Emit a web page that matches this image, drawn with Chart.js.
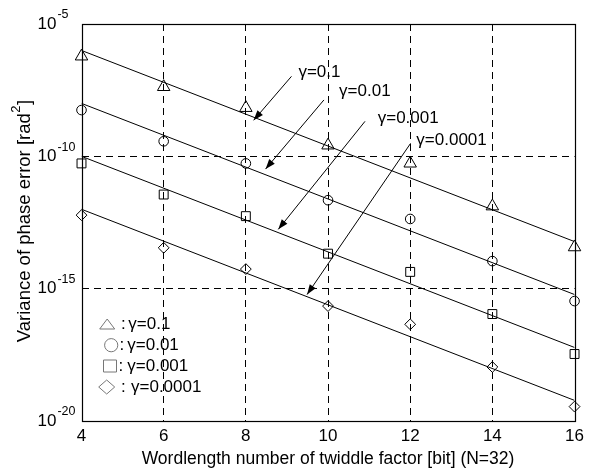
<!DOCTYPE html>
<html><head><meta charset="utf-8">
<script src="https://cdn.jsdelivr.net/npm/chart.js@4/dist/chart.umd.min.js"></script>
<style>html,body{margin:0;padding:0;background:#fff}#wrap{width:589px;height:468px}</style>
</head><body><div id="wrap"><canvas id="c" width="589" height="468"></canvas></div>
<script>
// ---- data ----
const bits = [4, 6, 8, 10, 12, 14, 16];
const gammaLabels = ['γ=0.1', 'γ=0.01', 'γ=0.001', 'γ=0.0001'];
const simGamma1e1 = [6.0e-7, 4.2e-8, 6.8e-9, 2.6e-10, 5.4e-11, 1.3e-12, 3.7e-14];
const simGamma1e2 = [5.6e-9, 3.7e-10, 5.4e-11, 2.2e-12, 4.3e-13, 1.1e-14, 3.4e-16];
const simGamma1e3 = [5.4e-11, 3.6e-12, 5.5e-13, 2.1e-14, 4.3e-15, 1.1e-16, 3.4e-18];
const simGamma1e4 = [6.0e-13, 3.5e-14, 5.5e-15, 2.2e-16, 4.5e-17, 1.1e-18, 3.5e-20];
const theoryBits = [4, 16];
const theoryGamma1e1 = [1.0e-6, 6.0e-14];
const theoryGamma1e2 = [1.0e-8, 6.0e-16];
const theoryGamma1e3 = [1.0e-10, 6.0e-18];
const theoryGamma1e4 = [1.0e-12, 6.0e-20];
const xTickValues = [4, 6, 8, 10, 12, 14, 16];
const yTickExponents = [-5, -10, -15, -20];
// annotation arrows (data coordinates: [bit, variance])
const arrowFrom = [[9.11, 1.05e-7], [9.90, 1.35e-8], [10.90, 2.1e-9], [12.01, 3.1e-10]];
const arrowTo = [[8.19, 2.3e-9], [8.48, 3.3e-11], [8.79, 1.74e-13], [9.49, 6.0e-16]];
const labelAt = [[9.28, 1.45e-7], [10.27, 2.75e-8], [11.21, 2.8e-9], [12.15, 4.2e-10]];

const FONT = '"Liberation Sans", Arial, Helvetica, sans-serif';
const simSets = [simGamma1e1, simGamma1e2, simGamma1e3, simGamma1e4];
const theorySets = [theoryGamma1e1, theoryGamma1e2, theoryGamma1e3, theoryGamma1e4];
const styles = ['triangle', 'circle', 'rect', 'rectRot'];
const radii = [7.2, 4.8, 6.3, 5.4];

const datasets = [];
theorySets.forEach((t) => {
  datasets.push({
    data: theoryBits.map((b, i) => ({x: b, y: t[i]})),
    showLine: true, borderColor: '#000', borderWidth: 1, pointRadius: 0, fill: false
  });
});
simSets.forEach((s, k) => {
  datasets.push({
    data: bits.map((b, i) => ({x: b, y: s[i]})),
    showLine: false, pointStyle: styles[k], pointRadius: radii[k],
    borderColor: '#000', backgroundColor: 'rgba(0,0,0,0)', pointBorderWidth: 1, clip: false
  });
});

function drawArrow(ctx, x1, y1, x2, y2) {
  ctx.beginPath(); ctx.moveTo(x1, y1); ctx.lineTo(x2, y2); ctx.stroke();
  const a = Math.atan2(y2 - y1, x2 - x1), L = 10, W = 3.6;
  const bx = x2 - L * Math.cos(a), by = y2 - L * Math.sin(a);
  ctx.beginPath();
  ctx.moveTo(x2, y2);
  ctx.lineTo(bx + W * Math.sin(a), by - W * Math.cos(a));
  ctx.lineTo(bx - W * Math.sin(a), by + W * Math.cos(a));
  ctx.closePath(); ctx.fill();
}

const overlay = {
  id: 'overlay',
  afterDraw(chart) {
    const ctx = chart.ctx, xs = chart.scales.x, ys = chart.scales.y, ca = chart.chartArea;
    ctx.save();
    // frame
    ctx.strokeStyle = '#000'; ctx.lineWidth = 1.2;
    const l = Math.round(ca.left) + 0.5, t = Math.round(ca.top) + 0.5;
    const r = Math.round(ca.right) + 0.5, b = Math.round(ca.bottom) + 0.5;
    ctx.strokeRect(l, t, r - l, b - t);
    // y tick labels 10^e
    ctx.fillStyle = '#000'; ctx.textBaseline = 'middle'; ctx.textAlign = 'left';
    yTickExponents.forEach(e => {
      const py = ys.getPixelForValue(Math.pow(10, e));
      ctx.font = '17px ' + FONT;
      ctx.fillText('10', 37.5, py);
      const w = ctx.measureText('10').width;
      ctx.font = '12.5px ' + FONT;
      ctx.fillText(String(e), 37.5 + w + 1, py - 9);
    });
    // x title
    ctx.font = '17.5px ' + FONT; ctx.textAlign = 'center';
    ctx.fillText('Wordlength number of twiddle factor [bit] (N=32)', (ca.left + ca.right) / 2, 459);
    // y title
    ctx.save();
    ctx.translate(25, (ca.top + ca.bottom) / 2 - 1);
    ctx.rotate(-Math.PI / 2);
    ctx.textAlign = 'left';
    const p1 = 'Variance of phase error [rad', sup = '2', p2 = ']';
    ctx.font = '18.5px ' + FONT; const w1 = ctx.measureText(p1).width, w3 = ctx.measureText(p2).width;
    ctx.font = '13px ' + FONT; const w2 = ctx.measureText(sup).width;
    let x0 = -(w1 + w2 + w3) / 2;
    ctx.font = '18.5px ' + FONT; ctx.fillText(p1, x0, 0);
    ctx.font = '13px ' + FONT; ctx.fillText(sup, x0 + w1 + 0.5, -8.5);
    ctx.font = '18.5px ' + FONT; ctx.fillText(p2, x0 + w1 + w2 + 1, 0);
    ctx.restore();
    // annotations
    ctx.strokeStyle = '#000'; ctx.fillStyle = '#000'; ctx.lineWidth = 1;
    arrowFrom.forEach((f, i) => {
      drawArrow(ctx, xs.getPixelForValue(f[0]), ys.getPixelForValue(f[1]),
        xs.getPixelForValue(arrowTo[i][0]), ys.getPixelForValue(arrowTo[i][1]));
    });
    ctx.font = '17px ' + FONT; ctx.textAlign = 'left'; ctx.textBaseline = 'middle';
    labelAt.forEach((p, i) => {
      ctx.fillText(gammaLabels[i], xs.getPixelForValue(p[0]), ys.getPixelForValue(p[1]));
    });
    // legend
    const rowsDy = [-96.5, -75.8, -55, -34];
    const markDx = [25.7, 29.7, 28.5, 25.2];
    const colonDx = [39.5, 38, 37, 39.5];
    const textDx = [46.8, 45.8, 45.8, 49.5];
    ctx.strokeStyle = '#777'; ctx.lineWidth = 1;
    rowsDy.forEach((dy, i) => {
      const cy = ca.bottom + dy, cx = ca.left + markDx[i];
      ctx.beginPath();
      if (i === 0) { ctx.moveTo(cx, cy - 5.5); ctx.lineTo(cx + 7.5, cy + 4.5); ctx.lineTo(cx - 7.5, cy + 4.5); ctx.closePath(); }
      else if (i === 1) { ctx.arc(cx, cy, 6.6, 0, Math.PI * 2); }
      else if (i === 2) { ctx.rect(cx - 6.5, cy - 6, 13, 12); }
      else { ctx.moveTo(cx, cy - 7); ctx.lineTo(cx + 8, cy); ctx.lineTo(cx, cy + 7); ctx.lineTo(cx - 8, cy); ctx.closePath(); }
      ctx.stroke();
      ctx.fillStyle = '#000'; ctx.font = '17px ' + FONT;
      ctx.fillText(':', ca.left + colonDx[i], cy);
      ctx.fillText(gammaLabels[i], ca.left + textDx[i], cy);
    });
    ctx.restore();
  }
};

const hideEdge = (edges) => (c) => (c.tick && edges.includes(c.tick.value)) ? 'rgba(0,0,0,0)' : '#000';

new Chart(document.getElementById('c'), {
  type: 'scatter',
  data: {datasets},
  options: {
    responsive: false, animation: false, devicePixelRatio: 1, events: [],
    layout: {padding: {top: 24, right: 10.5, left: 0, bottom: 0}},
    plugins: {legend: {display: false}, tooltip: {enabled: false}},
    scales: {
      x: {
        type: 'linear', min: 4, max: 16,
        afterBuildTicks: (s) => { s.ticks = xTickValues.map(v => ({value: v})); },
        afterFit: (s) => { s.height = 47; },
        ticks: {color: '#000', font: {family: FONT, size: 17}, padding: 5, autoSkip: false, maxRotation: 0},
        grid: {color: hideEdge([4, 16]), lineWidth: 1, drawTicks: false},
        border: {display: false, dash: [7, 5]}
      },
      y: {
        type: 'logarithmic', min: 1e-20, max: 1e-5,
        afterBuildTicks: (s) => { s.ticks = yTickExponents.map(e => ({value: Math.pow(10, e)})); },
        afterFit: (s) => { s.width = 81.5; },
        ticks: {display: false},
        grid: {color: hideEdge([1e-5, 1e-20]), lineWidth: 1, drawTicks: false},
        border: {display: false, dash: [7, 5]}
      }
    }
  },
  plugins: [overlay]
});
</script></body></html>
